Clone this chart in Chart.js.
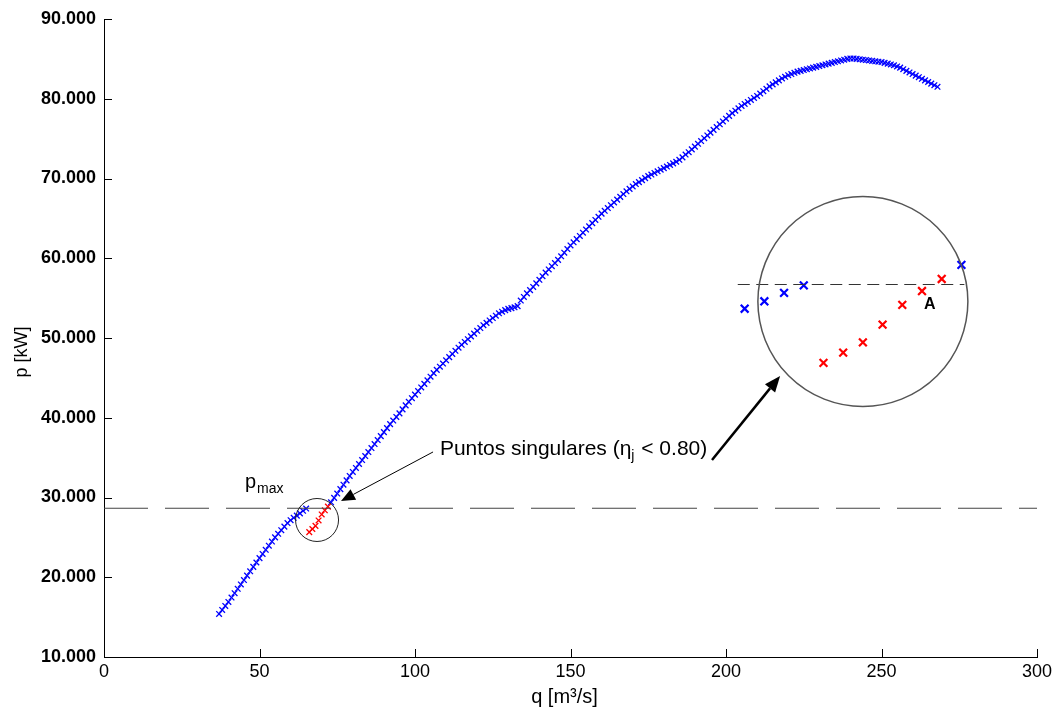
<!DOCTYPE html>
<html lang="es">
<head>
<meta charset="UTF-8">
<title>p vs q</title>
<style>
  body { margin: 0; background: #fff; }
  #wrap { position: relative; width: 1057px; height: 711px; }
  #main { position: absolute; left: 0; top: 0; }
  #zoomBox { position: absolute; left: 720px; top: 190px; }
</style>
<script src="https://cdn.jsdelivr.net/npm/chart.js"></script>
</head>
<body>
<div id="wrap">
  <canvas id="main" width="1057" height="711"></canvas>
  <canvas id="zoomBox" width="270" height="230"></canvas>
</div>
<script>
// potencia maxima (linea discontinua)
const pMax = 28650;

// primer tramo azul
const qBlue1 = [37, 38, 39, 40, 41, 42, 43, 44, 45, 46, 47, 48, 49, 50, 51, 52, 53, 54, 55, 56, 57, 58, 59, 60, 61, 62, 63, 64, 65];
const pBlue1 = [15400, 15900, 16400, 16900, 17450, 18000, 18550, 19100, 19650, 20200, 20750, 21300, 21850, 22400, 22920,
  23440, 23960, 24480, 25000, 25450, 25900, 26350, 26800, 27150, 27450, 27725, 28010, 28330, 28615];

// puntos singulares (rojo)
const qRed = [66, 67, 68, 69, 70, 71, 72];
const pRed = [25660, 26050, 26440, 27120, 27870, 28400, 28860];

// segundo tramo azul
const qBlue2 = [73, 74, 75, 76, 77, 78, 79, 80, 81, 82, 83, 84, 85, 86, 87, 88, 89, 90, 91, 92, 93, 94, 95, 96, 97, 98, 99,
  100, 101, 102, 103, 104, 105, 106, 107, 108, 109, 110, 111, 112, 113, 114, 115, 116, 117, 118, 119, 120, 121, 122, 123, 124,
  125, 126, 127, 128, 129, 130, 131, 132, 133, 134, 135, 136, 137, 138, 139, 140, 141, 142, 143, 144, 145, 146, 147, 148, 149,
  150, 151, 152, 153, 154, 155, 156, 157, 158, 159, 160, 161, 162, 163, 164, 165, 166, 167, 168, 169, 170, 171, 172, 173, 174,
  175, 176, 177, 178, 179, 180, 181, 182, 183, 184, 185, 186, 187, 188, 189, 190, 191, 192, 193, 194, 195, 196, 197, 198, 199,
  200, 201, 202, 203, 204, 205, 206, 207, 208, 209, 210, 211, 212, 213, 214, 215, 216, 217, 218, 219, 220, 221, 222, 223, 224,
  225, 226, 227, 228, 229, 230, 231, 232, 233, 234, 235, 236, 237, 238, 239, 240, 241, 242, 243, 244, 245, 246, 247, 248, 249,
  250, 251, 252, 253, 254, 255, 256, 257, 258, 259, 260, 261, 262, 263, 264, 265, 266, 267, 268];
const pBlue2 = [29400, 29950, 30500, 31050, 31600, 32150, 32700, 33200, 33700, 34200, 34700, 35200, 35700, 36200, 36700,
  37200, 37700, 38200, 38700, 39200, 39650, 40100, 40550, 41050, 41550, 42000, 42450,
  42900, 43350, 43800, 44250, 44700, 45150, 45600, 46000, 46400, 46800, 47200, 47600, 48000, 48400, 48780, 49150, 49500, 49850,
  50200, 50550, 50900, 51250, 51600, 51900, 52200,
  52500, 52800, 53100, 53300, 53500, 53650, 53750, 53850, 54000, 54700, 55150, 55600, 56000, 56400, 56850, 57300, 57750,
  58200, 58600, 59000, 59400, 59800, 60250, 60700, 61150,
  61600, 62000, 62400, 62800, 63200, 63600, 64000, 64400, 64800, 65200, 65600, 65950, 66300, 66650, 67000, 67350, 67700,
  68050, 68400, 68700, 69000, 69300, 69550, 69800, 70050,
  70300, 70500, 70700, 70900, 71100, 71300, 71500, 71700, 71900, 72100, 72350, 72650, 73000, 73300, 73650, 74000, 74350,
  74700, 75050, 75400, 75750, 76100, 76450, 76800, 77150,
  77500, 77850, 78200, 78500, 78800, 79100, 79350, 79600, 79850, 80100, 80350, 80650, 80950, 81250, 81550, 81800, 82050,
  82300, 82550, 82750, 82950, 83100, 83250, 83400, 83500,
  83600, 83700, 83800, 83900, 84000, 84100, 84200, 84300, 84400, 84500, 84600, 84700, 84800, 84900, 85000, 85050, 85050,
  85000, 84950, 84900, 84850, 84800, 84750, 84700, 84650,
  84600, 84500, 84400, 84300, 84200, 84050, 83900, 83700, 83500, 83300, 83100, 82900, 82700, 82500, 82300, 82100, 81900,
  81700, 81500];

// tramo ampliado en el circulo grande
const zoomQMin = 62;
const zoomQMax = 73;

const BLUE = '#0000ff';
const RED = '#ff0000';
const FONT = "'Liberation Sans', Arial, sans-serif";

function toPts(qs, ps) {
  return qs.map((q, i) => ({ x: q, y: ps[i] }));
}
function inZoom(pts) {
  return pts.filter(pt => pt.x >= zoomQMin && pt.x <= zoomQMax);
}

const blue1Pts = toPts(qBlue1, pBlue1);
const redPts = toPts(qRed, pRed);
const blue2Pts = toPts(qBlue2, pBlue2);

function drawArrow(ctx, x1, y1, x2, y2, width, headLen, headW) {
  const ang = Math.atan2(y2 - y1, x2 - x1);
  const bx = x2 - headLen * Math.cos(ang);
  const by = y2 - headLen * Math.sin(ang);
  ctx.beginPath();
  ctx.lineWidth = width;
  ctx.moveTo(x1, y1);
  ctx.lineTo(bx, by);
  ctx.stroke();
  ctx.beginPath();
  ctx.moveTo(x2, y2);
  ctx.lineTo(bx + headW / 2 * Math.sin(ang), by - headW / 2 * Math.cos(ang));
  ctx.lineTo(bx - headW / 2 * Math.sin(ang), by + headW / 2 * Math.cos(ang));
  ctx.closePath();
  ctx.fill();
}

// marcas de los ejes hacia dentro + titulos de los ejes
const innerTicks = {
  id: 'innerTicks',
  afterDraw(chart) {
    const { ctx, scales: { x, y }, chartArea: a } = chart;
    ctx.save();
    ctx.strokeStyle = '#000';
    ctx.lineWidth = 1;
    ctx.beginPath();
    x.ticks.forEach(t => {
      const px = Math.round(x.getPixelForValue(t.value)) + 0.5;
      ctx.moveTo(px, a.bottom);
      ctx.lineTo(px, a.bottom - 8);
    });
    y.ticks.forEach(t => {
      const py = Math.round(y.getPixelForValue(t.value)) + 0.5;
      ctx.moveTo(a.left, py);
      ctx.lineTo(a.left + 8, py);
    });
    ctx.stroke();

    ctx.fillStyle = '#000';
    ctx.textAlign = 'center';
    ctx.textBaseline = 'middle';
    ctx.font = '20px ' + FONT;
    ctx.fillText('q [m\u00b3/s]', (a.left + a.right) / 2 - 6, 697);

    ctx.translate(22, (a.top + a.bottom) / 2 + 14);
    ctx.rotate(-Math.PI / 2);
    ctx.font = '18px ' + FONT;
    ctx.fillText('p [kW]', 0, 0);
    ctx.restore();
  }
};

// circulo pequeño, flechas y textos
const notes = {
  id: 'notes',
  afterDatasetsDraw(chart) {
    const { ctx, scales: { x, y } } = chart;
    ctx.save();
    // circulo alrededor de los puntos singulares
    ctx.strokeStyle = '#222';
    ctx.lineWidth = 1;
    ctx.beginPath();
    ctx.arc(x.getPixelForValue(68.5), y.getPixelForValue(27180), 21.5, 0, Math.PI * 2);
    ctx.stroke();

    ctx.fillStyle = '#000';
    ctx.strokeStyle = '#000';
    drawArrow(ctx, x.getPixelForValue(105.8), y.getPixelForValue(35710),
      x.getPixelForValue(76.2), y.getPixelForValue(29560), 1, 14, 12);
    drawArrow(ctx, x.getPixelForValue(195.5), y.getPixelForValue(34700),
      x.getPixelForValue(217.4), y.getPixelForValue(45240), 2.5, 16, 13);

    // p_max
    ctx.textBaseline = 'alphabetic';
    ctx.textAlign = 'left';
    let px = x.getPixelForValue(45.3);
    let py = y.getPixelForValue(31190);
    ctx.font = '20px ' + FONT;
    ctx.fillText('p', px, py);
    px += ctx.measureText('p').width + 1;
    ctx.font = '14px ' + FONT;
    ctx.fillText('max', px, py + 5);

    // Puntos singulares
    px = x.getPixelForValue(108);
    py = y.getPixelForValue(35300);
    ctx.font = '21px ' + FONT;
    const t1 = 'Puntos singulares (\u03b7';
    ctx.fillText(t1, px, py);
    px += ctx.measureText(t1).width;
    ctx.font = '14px ' + FONT;
    ctx.fillText('j', px, py + 5);
    px += ctx.measureText('j').width + 1;
    ctx.font = '21px ' + FONT;
    ctx.fillText(' < 0.80)', px, py);
    ctx.restore();
  }
};

new Chart(document.getElementById('main'), {
  type: 'scatter',
  data: {
    datasets: [
      {
        data: [{ x: 0, y: pMax }, { x: 300, y: pMax }],
        showLine: true, borderColor: '#444', borderWidth: 1.2, borderDash: [44, 17], pointRadius: 0
      },
      { data: blue1Pts, pointStyle: 'crossRot', pointRadius: 4, borderColor: BLUE, borderWidth: 1.3 },
      { data: redPts, pointStyle: 'crossRot', pointRadius: 4, borderColor: RED, borderWidth: 1.3 },
      { data: blue2Pts, pointStyle: 'crossRot', pointRadius: 4, borderColor: BLUE, borderWidth: 1.3 }
    ]
  },
  options: {
    responsive: false,
    animation: false,
    devicePixelRatio: 1,
    layout: { padding: { top: 19, right: 20, left: 0, bottom: 0 } },
    plugins: { legend: { display: false }, tooltip: { enabled: false } },
    scales: {
      x: {
        type: 'linear', min: 0, max: 300,
        ticks: { stepSize: 50, padding: 4, color: '#000', font: { family: FONT, size: 18 } },
        grid: { drawOnChartArea: false, drawTicks: false },
        border: { color: '#000', width: 1 },
        title: { display: false },
        afterFit: s => { s.height = 54; }
      },
      y: {
        min: 10000, max: 90000,
        ticks: { stepSize: 10000, padding: 8, color: '#000', font: { family: FONT, size: 18, weight: 'bold' },
          callback: v => (v / 1000).toFixed(3) },
        grid: { drawOnChartArea: false, drawTicks: false },
        border: { color: '#000', width: 1 },
        title: { display: false },
        afterFit: s => { s.width = 104; }
      }
    }
  },
  plugins: [innerTicks, notes]
});

// circulo grande con la ampliacion
const zoomNotes = {
  id: 'zoomNotes',
  afterDatasetsDraw(chart) {
    const { ctx, scales: { x, y } } = chart;
    ctx.save();
    ctx.strokeStyle = '#555';
    ctx.lineWidth = 1.5;
    ctx.beginPath();
    ctx.arc(x.getPixelForValue(68), y.getPixelForValue(28000), 105, 0, Math.PI * 2);
    ctx.stroke();
    ctx.fillStyle = '#000';
    ctx.font = 'bold 16px ' + FONT;
    ctx.textAlign = 'center';
    ctx.textBaseline = 'middle';
    ctx.fillText('A', x.getPixelForValue(71.4), y.getPixelForValue(27900));
    ctx.restore();
  }
};

new Chart(document.getElementById('zoomBox'), {
  type: 'scatter',
  data: {
    datasets: [
      {
        data: [{ x: 61.65, y: pMax }, { x: 73.15, y: pMax }],
        showLine: true, borderColor: '#333', borderWidth: 1.2, borderDash: [12, 6.5], pointRadius: 0
      },
      { data: inZoom(blue1Pts).concat(inZoom(blue2Pts)), pointStyle: 'crossRot', pointRadius: 5.5, borderColor: BLUE, borderWidth: 2.2 },
      { data: inZoom(redPts), pointStyle: 'crossRot', pointRadius: 5.5, borderColor: RED, borderWidth: 2.2 }
    ]
  },
  options: {
    responsive: false,
    animation: false,
    devicePixelRatio: 1,
    layout: { padding: 0 },
    plugins: { legend: { display: false }, tooltip: { enabled: false } },
    scales: {
      x: { type: 'linear', display: false, min: 61.14, max: 74.06 },
      y: { display: false, min: 23775, max: 31960 }
    }
  },
  plugins: [zoomNotes]
});
</script>
</body>
</html>
